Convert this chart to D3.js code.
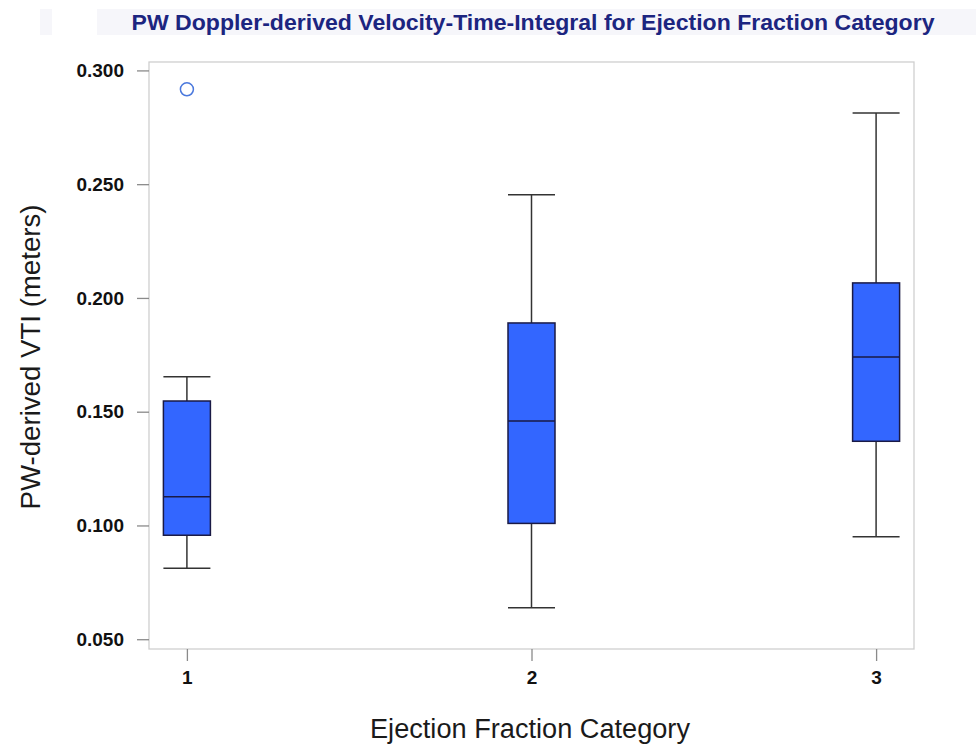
<!DOCTYPE html>
<html><head><meta charset="utf-8">
<script src="https://cdn.jsdelivr.net/npm/d3@7"></script>
<style>body{margin:0;background:#fff}svg{display:block}</style>
</head><body><div id="chart"></div>
<script>
const categories = ["1","2","3"];
const whiskerLow = [0.0812, 0.0638, 0.0950];
const q1 = [0.0957, 0.1009, 0.1370];
const median = [0.1126, 0.1459, 0.1740];
const q3 = [0.1547, 0.1890, 0.2066];
const whiskerHigh = [0.1654, 0.2453, 0.2813];
const outlierCat = ["1"];
const outlierVal = [0.2917];
const yTicks = [0.05, 0.10, 0.15, 0.20, 0.25, 0.30];

const W = 976, H = 747;
const FONT = "Liberation Sans, Arial, sans-serif";
const svg = d3.select("#chart").append("svg").attr("width", W).attr("height", H);

// title background strips
svg.append("rect").attr("x", 40).attr("y", 9).attr("width", 12).attr("height", 26).attr("fill", "#f6f6fa");
svg.append("rect").attr("x", 97).attr("y", 9).attr("width", 879).attr("height", 26).attr("fill", "#f6f6fa");
svg.append("text").attr("x", 533).attr("y", 29.5).attr("text-anchor", "middle")
  .attr("font-family", FONT).attr("font-weight", "bold")
  .attr("font-size", 22).attr("fill", "#1c2580")
  .attr("textLength", 803).attr("lengthAdjust", "spacingAndGlyphs")
  .text("PW Doppler-derived Velocity-Time-Integral for Ejection Fraction Category");

const L = 149, R = 914, T = 62, B = 649;
const x = d3.scalePoint().domain(categories).range([L, R]).padding(0.11);
const y = d3.scaleLinear().domain([0.0457, 0.3037]).range([B, T]);

// frame
svg.append("rect").attr("x", L).attr("y", T).attr("width", R - L).attr("height", B - T)
  .attr("fill", "none").attr("stroke", "#cfcfcf").attr("stroke-width", 1.3);

const yAxis = svg.append("g").attr("transform", `translate(${L},0)`)
  .call(d3.axisLeft(y).tickValues(yTicks).tickFormat(d3.format(".3f")).tickSize(12).tickPadding(13));
const xAxis = svg.append("g").attr("transform", `translate(0,${B})`)
  .call(d3.axisBottom(x).tickSize(12).tickPadding(10));
[yAxis, xAxis].forEach(g => {
  g.select(".domain").remove();
  g.selectAll(".tick line").attr("stroke", "#8a8a8a").attr("stroke-width", 1.3);
  g.selectAll(".tick text").attr("font-family", FONT)
    .attr("font-weight", "bold").attr("font-size", 19).attr("fill", "#111");
});

const bw = 47;
const boxes = svg.append("g");
categories.forEach((c, i) => {
  const cx = x(c);
  const g = boxes.append("g");
  g.append("line").attr("x1", cx).attr("x2", cx).attr("y1", y(whiskerHigh[i])).attr("y2", y(q3[i]))
    .attr("stroke", "#333").attr("stroke-width", 1.5);
  g.append("line").attr("x1", cx).attr("x2", cx).attr("y1", y(q1[i])).attr("y2", y(whiskerLow[i]))
    .attr("stroke", "#333").attr("stroke-width", 1.5);
  [whiskerHigh[i], whiskerLow[i]].forEach(v => {
    g.append("line").attr("x1", cx - bw / 2).attr("x2", cx + bw / 2).attr("y1", y(v)).attr("y2", y(v))
      .attr("stroke", "#333").attr("stroke-width", 1.5);
  });
  g.append("rect").attr("x", cx - bw / 2).attr("y", y(q3[i])).attr("width", bw)
    .attr("height", y(q1[i]) - y(q3[i])).attr("fill", "#3366ff").attr("stroke", "#1a1a45").attr("stroke-width", 1.5);
  g.append("line").attr("x1", cx - bw / 2).attr("x2", cx + bw / 2).attr("y1", y(median[i])).attr("y2", y(median[i]))
    .attr("stroke", "#1a1a45").attr("stroke-width", 1.5);
});

svg.append("g").selectAll("circle").data(outlierVal).join("circle")
  .attr("cx", (d, i) => x(outlierCat[i])).attr("cy", d => y(d)).attr("r", 6.5)
  .attr("fill", "none").attr("stroke", "#4a78dd").attr("stroke-width", 1.5);

svg.append("text").attr("x", 530).attr("y", 738).attr("text-anchor", "middle")
  .attr("font-family", FONT).attr("font-size", 27).attr("fill", "#1a1a1a")
  .attr("textLength", 320).attr("lengthAdjust", "spacingAndGlyphs")
  .text("Ejection Fraction Category");
svg.append("text").attr("transform", "translate(40,357) rotate(-90)").attr("text-anchor", "middle")
  .attr("font-family", FONT).attr("font-size", 27).attr("fill", "#1a1a1a")
  .attr("textLength", 305).attr("lengthAdjust", "spacingAndGlyphs")
  .text("PW-derived VTI (meters)");
</script></body></html>
